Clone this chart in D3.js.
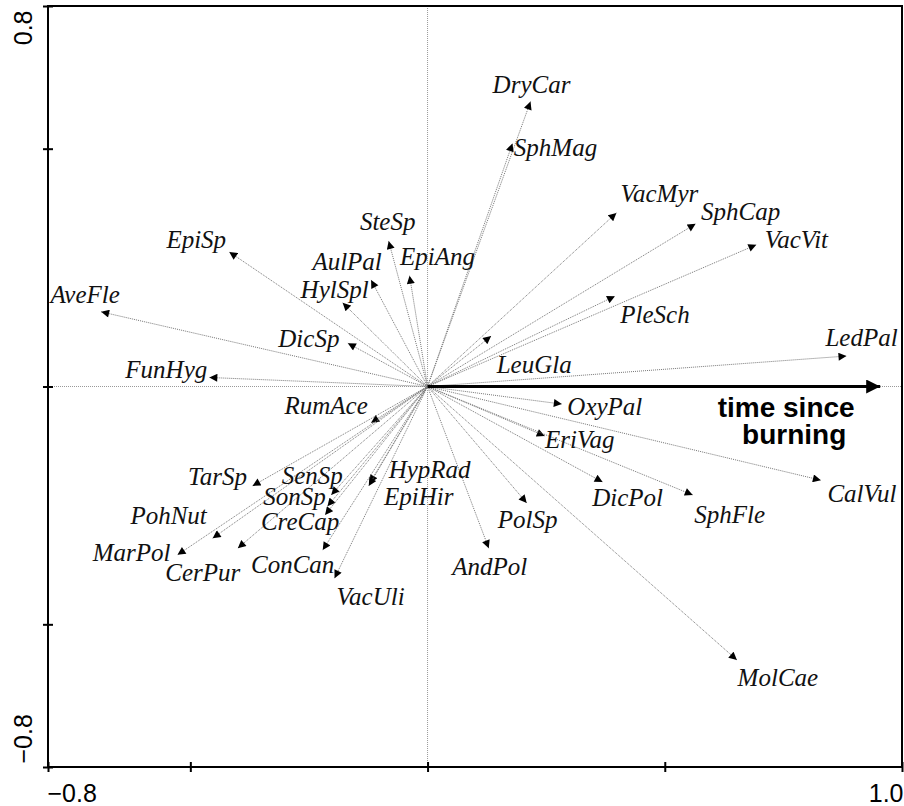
<!DOCTYPE html>
<html><head><meta charset="utf-8">
<script src="https://cdn.jsdelivr.net/npm/d3@7"></script>
<style>
body{margin:0;background:#fff;}
svg{display:block;}
</style></head>
<body>
<svg id="c" width="904" height="806"></svg>
<script>
// ---- data ----
const species = ["DryCar","SphMag","VacMyr","SphCap","VacVit","PleSch","LeuGla","LedPal",
  "SteSp","EpiAng","AulPal","HylSpl","EpiSp","AveFle","DicSp","FunHyg",
  "RumAce","TarSp","SenSp","SonSp","CreCap","PohNut","MarPol","CerPur","ConCan","VacUli",
  "HypRad","EpiHir","OxyPal","EriVag","DicPol","SphFle","CalVul","PolSp","AndPol","MolCae"];
const axis1 = [0.217,0.179,0.398,0.565,0.693,0.395,0.134,0.883,
  -0.082,-0.038,-0.119,-0.179,-0.418,-0.688,-0.168,-0.460,
  -0.119,-0.369,-0.203,-0.211,-0.216,-0.453,-0.527,-0.400,-0.221,-0.196,
  -0.122,-0.124,0.283,0.247,0.369,0.559,0.829,0.209,0.129,0.652];
const axis2 = [0.599,0.511,0.365,0.342,0.298,0.190,0.106,0.064,
  0.306,0.233,0.224,0.176,0.283,0.157,0.091,0.019,
  -0.076,-0.209,-0.228,-0.252,-0.270,-0.319,-0.354,-0.340,-0.344,-0.403,
  -0.203,-0.209,-0.037,-0.104,-0.201,-0.228,-0.197,-0.245,-0.340,-0.575];
const envName = ["time since", "burning"];
const envValue = [0.954, 0];
const xTicks = [-0.8,-0.5,0,0.5,1.0];
const yTicks = [-0.8,-0.5,0,0.5,0.8];

// ---- layout (label offsets from arrow tip, px) ----
const labelOffset = {
  DryCar:[1,-17],SphMag:[43,5],VacMyr:[43,-19],SphCap:[45,-12],VacVit:[40,-5],PleSch:[40,19],
  LeuGla:[43,29],LedPal:[15,-18],SteSp:[-1,-19],EpiAng:[28,-19],AulPal:[-24,-18],HylSpl:[-8,-13],
  EpiSp:[-33,-12],AveFle:[-16,-17],DicSp:[-39,-4],FunHyg:[-43,-7],RumAce:[-45,-17],TarSp:[-35,-9],
  SenSp:[-19,-19],SonSp:[-33,-9],CreCap:[-25,7],PohNut:[-44,-22],MarPol:[-46,-2],CerPur:[-35,25],
  ConCan:[-30,15],VacUli:[36,19],HypRad:[60,-13],EpiHir:[50,11],OxyPal:[43,3],EriVag:[35,4],
  DicPol:[25,16],SphFle:[37,20],CalVul:[41,14],PolSp:[1,17],AndPol:[1,19],MolCae:[41,18]
};
const SERIF = "'Liberation Serif', 'Times New Roman', 'DejaVu Serif', serif";
const SANS = "'Liberation Sans', Arial, sans-serif";

const svg = d3.select("#c");
const x = d3.scaleLinear().domain([-0.8,1.0]).range([48,902]);
const y = d3.scaleLinear().domain([-0.8,0.8]).range([767,6]);

const defs = svg.append("defs");
defs.append("marker").attr("id","ah").attr("viewBox","0 0 10 10").attr("refX",10).attr("refY",5)
  .attr("markerWidth",9).attr("markerHeight",8).attr("markerUnits","userSpaceOnUse").attr("orient","auto")
  .append("path").attr("d","M0,0 L10,5 L0,10 Z").attr("fill","#000");
defs.append("marker").attr("id","ahBig").attr("viewBox","0 0 10 10").attr("refX",10).attr("refY",5)
  .attr("markerWidth",20).attr("markerHeight",14).attr("markerUnits","userSpaceOnUse").attr("orient","auto")
  .append("path").attr("d","M0,0 L10,5 L0,10 Z").attr("fill","#000");

// zero lines
svg.append("line").attr("x1",x(-0.8)).attr("x2",x(1.0)).attr("y1",y(0)).attr("y2",y(0))
  .attr("stroke","#999").attr("stroke-width",1).attr("stroke-dasharray","1,1");
svg.append("line").attr("x1",x(0)).attr("x2",x(0)).attr("y1",y(0.8)).attr("y2",y(-0.8))
  .attr("stroke","#999").attr("stroke-width",1).attr("stroke-dasharray","1,1");

// species arrows
const data = species.map((s,i)=>({name:s,a1:axis1[i],a2:axis2[i]}));
svg.append("g").selectAll("line").data(data).join("line")
  .attr("x1",x(0)).attr("y1",y(0)).attr("x2",d=>x(d.a1)).attr("y2",d=>y(d.a2))
  .attr("stroke","#777").attr("stroke-width",1).attr("stroke-dasharray","1,1")
  .attr("marker-end","url(#ah)");
svg.append("g").selectAll("text").data(data).join("text")
  .attr("font-family",SERIF).attr("font-style","italic").attr("font-size",25).attr("fill","#111")
  .attr("text-anchor","middle")
  .attr("x",d=>x(d.a1)+labelOffset[d.name][0])
  .attr("y",d=>y(d.a2)+labelOffset[d.name][1]+8)
  .text(d=>d.name);

// environmental arrow
svg.append("line").attr("x1",x(0)).attr("y1",y(0)).attr("x2",x(envValue[0])).attr("y2",y(envValue[1]))
  .attr("stroke","#000").attr("stroke-width",3).attr("marker-end","url(#ahBig)");
const envT = svg.append("text").attr("text-anchor","middle")
  .attr("font-family",SANS).attr("font-weight","bold").attr("font-size",28)
  .attr("fill","#000");
envT.append("tspan").attr("x",x(envValue[0])-94).attr("y",y(envValue[1])+30).text(envName[0]);
envT.append("tspan").attr("x",x(envValue[0])-86).attr("y",y(envValue[1])+57).text(envName[1]);

// frame
svg.append("rect").attr("x",x(-0.8)).attr("y",y(0.8)).attr("width",x(1.0)-x(-0.8)).attr("height",y(-0.8)-y(0.8))
  .attr("fill","none").attr("stroke","#000").attr("stroke-width",2);

// axes
const fmt = v => (v===-0.8||v===0.8||v===1.0) ? d3.format(".1f")(v) : "";
const gx = svg.append("g").attr("transform",`translate(0,${y(-0.8)})`)
  .call(d3.axisBottom(x).tickValues(xTicks).tickFormat(fmt).tickSize(5).tickPadding(12));
gx.select(".domain").remove();
gx.selectAll(".tick line").attr("y1",-5).attr("y2",5).attr("stroke-width",2);
gx.selectAll(".tick text").attr("font-family",SANS).attr("font-size",25).attr("fill","#000")
  .attr("text-anchor",d=>d===-0.8?"start":(d===1.0?"end":"middle"))
  .attr("dx",d=>d===-0.8?-1:(d===1.0?1:0));

const gy = svg.append("g").attr("transform",`translate(${x(-0.8)},0)`)
  .call(d3.axisLeft(y).tickValues(yTicks).tickFormat(fmt).tickSize(5));
gy.select(".domain").remove();
gy.selectAll(".tick line").attr("x1",-5).attr("x2",5).attr("stroke-width",2);
gy.selectAll(".tick text").attr("font-family",SANS).attr("font-size",25).attr("fill","#000")
  .attr("x",null).attr("dy",null)
  .attr("text-anchor",d=>d===0.8?"end":"start")
  .attr("transform",d=>`translate(-16,${d===0.8?4:-4}) rotate(-90)`);
</script>
</body></html>
